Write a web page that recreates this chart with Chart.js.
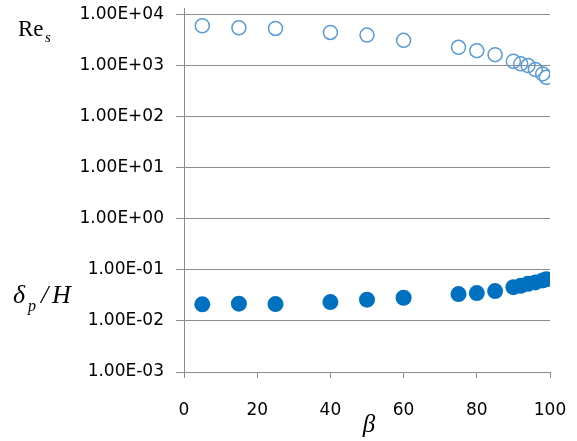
<!DOCTYPE html>
<html>
<head>
<meta charset="utf-8">
<script src="https://cdn.jsdelivr.net/npm/chart.js@4/dist/chart.umd.min.js"></script>
<style>
html,body{margin:0;padding:0;background:#fff;}
#wrap{width:577px;height:441px;position:relative;}
</style>
</head>
<body>
<div id="wrap"><canvas id="c" width="577" height="441"></canvas></div>
<script>
// ---- data ----
const beta = [5, 15, 25, 40, 50, 60, 75, 80, 85, 90, 92, 94, 96, 98, 99];
const reS = [6150, 5620, 5450, 4550, 4030, 3180, 2320, 2000, 1670, 1240, 1100, 1020, 850, 700, 600];
const deltaH = [0.0212, 0.0219, 0.0215, 0.0235, 0.0262, 0.0286, 0.0337, 0.0352, 0.0386, 0.0461, 0.049, 0.0537, 0.057, 0.0624, 0.066];
const yTickValues = [1e-3, 1e-2, 1e-1, 1e0, 1e1, 1e2, 1e3, 1e4];
const yTickLabels = ['1.00E-03', '1.00E-02', '1.00E-01', '1.00E+00', '1.00E+01', '1.00E+02', '1.00E+03', '1.00E+04'];
const xTickValues = [0, 20, 40, 60, 80, 100];

const GRID = '#8c8c8c';

const labelsPlugin = {
  id: 'sideLabels',
  afterDraw(chart) {
    const ctx = chart.ctx;
    ctx.save();
    ctx.fillStyle = '#000';
    ctx.textBaseline = 'alphabetic';
    ctx.textAlign = 'left';
    // Re_s
    ctx.font = '23px "Liberation Serif"';
    ctx.fillText('Re', 18, 36);
    ctx.font = 'italic 15px "Liberation Serif"';
    ctx.fillText('s', 45, 42);
    // δp / H
    ctx.font = 'italic 26px "Liberation Serif"';
    ctx.fillText('\u03B4', 13, 303);
    ctx.font = 'italic 16px "Liberation Serif"';
    ctx.fillText('p', 28, 311);
    ctx.font = 'italic 26px "Liberation Serif"';
    ctx.fillText('/', 41, 303);
    ctx.fillText('H', 52, 303);
    // beta
    ctx.textAlign = 'center';
    ctx.font = 'italic 25px "Liberation Serif"';
    ctx.fillText('\u03B2', 369, 432);
    ctx.restore();
  }
};

new Chart(document.getElementById('c'), {
  type: 'scatter',
  data: {
    datasets: [
      {
        label: 'Re_s',
        data: beta.map((b, i) => ({x: b, y: reS[i]})),
        pointRadius: 7,
        pointHoverRadius: 7,
        pointBorderWidth: 1.5,
        pointBorderColor: '#5B9BD5',
        pointBackgroundColor: 'rgba(255,255,255,0)'
      },
      {
        label: 'delta_p/H',
        data: beta.map((b, i) => ({x: b, y: deltaH[i]})),
        pointRadius: 8,
        pointHoverRadius: 8,
        pointBorderWidth: 0,
        pointBorderColor: '#0070C0',
        pointBackgroundColor: '#0070C0'
      }
    ]
  },
  options: {
    responsive: false,
    animation: false,
    layout: {padding: {left: 0, right: 27, top: 7, bottom: 0}},
    plugins: {legend: {display: false}, tooltip: {enabled: false}},
    scales: {
      x: {
        type: 'linear',
        min: 0,
        max: 100,
        afterBuildTicks(scale) { scale.ticks = xTickValues.map(v => ({value: v})); },
        afterFit(scale) { scale.height = 69; scale.paddingLeft = 0; scale.paddingRight = 0; },
        ticks: {
          color: '#000',
          font: {family: '"DejaVu Sans"', size: 17},
          padding: 22,
          maxRotation: 0
        },
        grid: {drawOnChartArea: false, drawTicks: true, tickLength: 6, color: GRID, lineWidth: 1},
        border: {display: true, color: GRID, width: 1}
      },
      y: {
        type: 'logarithmic',
        min: 1e-3,
        max: 13400,
        afterBuildTicks(scale) { scale.ticks = yTickValues.map(v => ({value: v})); },
        afterFit(scale) { scale.width = 184; scale.paddingTop = 0; scale.paddingBottom = 0; },
        ticks: {
          color: '#000',
          font: {family: '"DejaVu Sans"', size: 17},
          padding: 12,
          callback(v) {
            const i = yTickValues.findIndex(t => Math.abs(Math.log10(t) - Math.log10(v)) < 1e-6);
            return i >= 0 ? yTickLabels[i] : '';
          }
        },
        grid: {drawOnChartArea: true, drawTicks: true, tickLength: 8, color: GRID, lineWidth: 1},
        border: {display: true, color: GRID, width: 1}
      }
    }
  },
  plugins: [labelsPlugin]
});
</script>
</body>
</html>
